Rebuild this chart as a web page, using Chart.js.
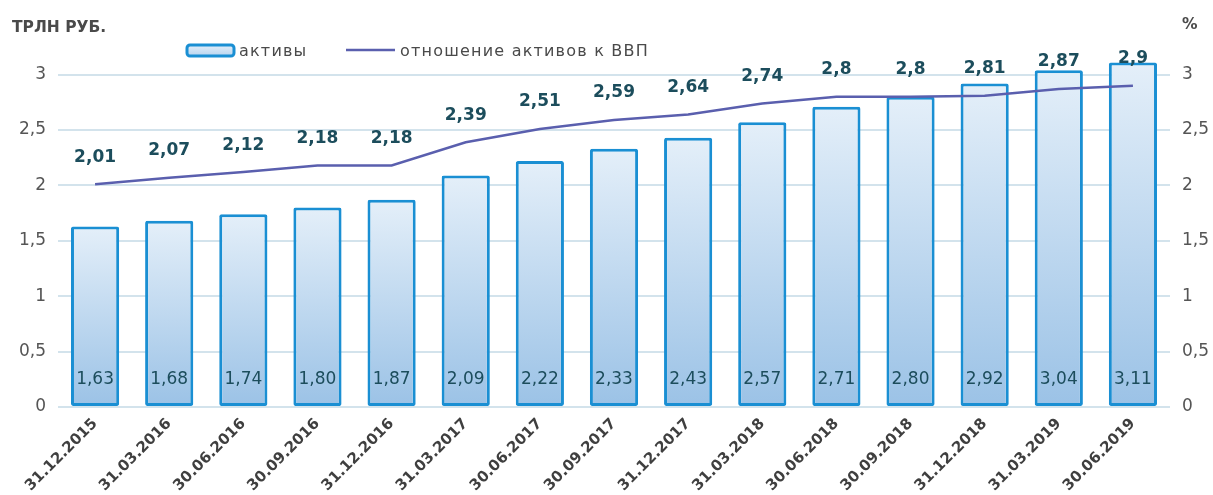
<!DOCTYPE html>
<html><head><meta charset="utf-8">
<script src="https://cdn.jsdelivr.net/npm/chart.js@4/dist/chart.umd.min.js"></script>
<style>html,body{margin:0;padding:0;background:#fff}#wrap{width:1213px;height:495px}</style>
</head><body><div id="wrap"><canvas id="c" width="1213" height="495"></canvas></div>
<script>
const categories = ['31.12.2015','31.03.2016','30.06.2016','30.09.2016','31.12.2016','31.03.2017','30.06.2017','30.09.2017','31.12.2017','31.03.2018','30.06.2018','30.09.2018','31.12.2018','31.03.2019','30.06.2019'];
const assets = [1.63,1.68,1.74,1.80,1.87,2.09,2.22,2.33,2.43,2.57,2.71,2.80,2.92,3.04,3.11];
const ratioToGdp = [2.01,2.07,2.12,2.18,2.18,2.39,2.51,2.59,2.64,2.74,2.8,2.8,2.81,2.87,2.9];
const tickValues = [0,0.5,1,1.5,2,2.5,3];
const leftTitle = 'ТРЛН РУБ.';
const rightTitle = '%';
const legendBar = 'активы';
const legendLine = 'отношение активов к ВВП';

const textColor = '#1c4d5c';
const fam = '"DejaVu Sans", sans-serif';

function fmtFixed(v){ return v.toFixed(2).replace('.', ','); }
function fmtShort(v){ return String(v).replace('.', ','); }

const labelsPlugin = {
  id: 'labelsPlugin',
  afterDatasetsDraw(chart){
    const c = chart.ctx;
    const y = chart.scales.y;
    c.save();
    c.textAlign = 'center';
    c.textBaseline = 'middle';
    c.fillStyle = textColor;
    const barMeta = chart.getDatasetMeta(1);
    c.font = '17px ' + fam;
    barMeta.data.forEach((el, i) => {
      c.fillText(fmtFixed(assets[i]), el.x, y.getPixelForValue(0) - 27);
    });
    const lineMeta = chart.getDatasetMeta(0);
    c.font = 'bold 17px ' + fam;
    lineMeta.data.forEach((el, i) => {
      c.fillText(fmtShort(ratioToGdp[i]), el.x, el.y - 27);
    });
    c.restore();
  },
  afterDraw(chart){
    const c = chart.ctx;
    c.save();
    c.fillStyle = '#4a4a4a';
    c.textBaseline = 'middle';
    c.font = 'bold 15.5px ' + fam;
    c.textAlign = 'left';
    c.fillText(leftTitle, 12, 28);
    c.fillText(rightTitle, 1182, 25);
    // legend
    const g = c.createLinearGradient(0, 45, 0, 57);
    g.addColorStop(0, '#e3eef9'); g.addColorStop(1, '#b4d2ee');
    c.fillStyle = g;
    c.strokeStyle = '#1a8fd3';
    c.lineWidth = 3;
    c.beginPath();
    c.roundRect(187, 45, 47, 11, 3);
    c.fill(); c.stroke();
    c.fillStyle = '#4a4a4a';
    c.font = '16px ' + fam;
    c.letterSpacing = '1.2px';
    c.fillText(legendBar, 239, 52);
    c.strokeStyle = '#5a5fae';
    c.lineWidth = 2.5;
    c.beginPath(); c.moveTo(346, 50); c.lineTo(395, 50); c.stroke();
    c.fillText(legendLine, 400, 52);
    c.restore();
  }
};

function barGradient(ctx){
  const chart = ctx.chart;
  if (!chart.chartArea || ctx.raw === undefined) return '#c5dcf1';
  const y = chart.scales.y;
  const top = y.getPixelForValue(ctx.raw);
  const bot = y.getPixelForValue(0);
  const g = chart.ctx.createLinearGradient(0, top, 0, bot);
  g.addColorStop(0, '#e4eff9');
  g.addColorStop(1, '#9bc2e6');
  return g;
}

function keepTicks(scale){
  scale.ticks = tickValues.map(v => ({value: v}));
}

new Chart(document.getElementById('c'), {
  data: {
    labels: categories,
    datasets: [
      { type: 'line', label: legendLine, data: ratioToGdp, yAxisID: 'y1', borderColor: '#5a5fae', borderWidth: 2.5, pointRadius: 0, tension: 0, order: 0 },
      { type: 'bar', label: legendBar, data: assets, yAxisID: 'y', backgroundColor: barGradient, borderColor: '#1a8fd3', borderWidth: 3, borderRadius: 2, borderSkipped: false, categoryPercentage: 0.65, barPercentage: 1, order: 1 }
    ]
  },
  options: {
    responsive: false,
    animation: false,
    layout: { padding: { top: 58, left: 0, right: 0, bottom: 0 } },
    plugins: { legend: { display: false }, tooltip: { enabled: false } },
    scales: {
      x: {
        grid: { display: false, drawTicks: false },
        border: { display: false },
        ticks: { maxRotation: 45, minRotation: 45, color: '#3f3f3f', font: { family: fam, size: 15, weight: 'bold' }, padding: 8 },
        afterFit(s){ s.height = 88; }
      },
      y: {
        position: 'left', min: 0, max: 3.15,
        afterBuildTicks: keepTicks,
        grid: { color: '#d3e3ec', lineWidth: 2, drawTicks: false },
        border: { display: false },
        ticks: { color: '#555', font: { family: fam, size: 17 }, padding: 12, callback: v => fmtShort(v) },
        afterFit(s){ s.width = 58; }
      },
      y1: {
        position: 'right', min: 0, max: 3.15,
        afterBuildTicks: keepTicks,
        grid: { display: false, drawTicks: false },
        border: { display: false },
        ticks: { color: '#555', font: { family: fam, size: 17 }, padding: 12, callback: v => fmtShort(v) },
        afterFit(s){ s.width = 43; }
      }
    }
  },
  plugins: [labelsPlugin]
});
</script>
</body></html>
